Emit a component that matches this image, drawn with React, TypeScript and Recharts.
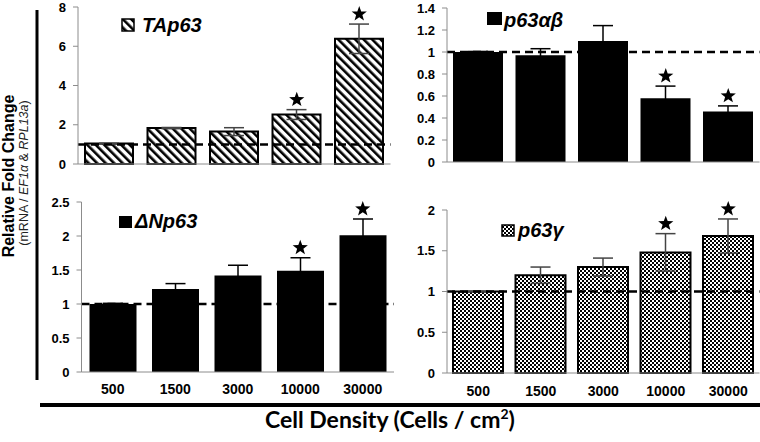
import React from 'react';
import { ComposedChart, Bar, ErrorBar, Line, XAxis, YAxis, ReferenceLine } from 'recharts';

const densities = ['500', '1500', '3000', '10000', '30000'];

const tap63 = [1.04, 1.83, 1.65, 2.52, 6.38];
const tap63Err = [0.02, 0.03, 0.2, 0.25, 0.75];
const tap63Sig = [false, false, false, true, true];
const tap63Ticks = [0, 2, 4, 6, 8];

const p63ab = [1.0, 0.97, 1.1, 0.58, 0.46];
const p63abErr = [0.005, 0.06, 0.14, 0.11, 0.05];
const p63abSig = [false, false, false, true, true];
const p63abTicks = [0, 0.2, 0.4, 0.6, 0.8, 1, 1.2, 1.4];

const dnp63 = [1.0, 1.22, 1.42, 1.49, 2.01];
const dnp63Err = [0.01, 0.08, 0.15, 0.19, 0.24];
const dnp63Sig = [false, false, false, true, true];
const dnp63Ticks = [0, 0.5, 1, 1.5, 2, 2.5];

const p63g = [1.0, 1.2, 1.3, 1.48, 1.68];
const p63gErr = [0.005, 0.1, 0.11, 0.23, 0.21];
const p63gSig = [false, false, false, true, true];
const p63gTicks = [0, 0.5, 1, 1.5, 2];

const FONT = '"Liberation Sans", Arial, sans-serif';

const makeRows = (vals: number[], errs: number[], sig: boolean[]) =>
  densities.map((d, i) => ({
    density: d,
    value: vals[i],
    err: errs[i],
    star: sig[i] ? vals[i] + errs[i] : null,
  }));

function starPoints(cx: number, cy: number, r: number, ri: number) {
  const pts: string[] = [];
  for (let k = 0; k < 10; k++) {
    const a = -Math.PI / 2 + (k * Math.PI) / 5;
    const rr = k % 2 === 0 ? r : ri;
    pts.push(`${cx + rr * Math.cos(a)},${cy + rr * Math.sin(a)}`);
  }
  return pts.join(' ');
}

const StarDot = (props: any) => {
  const { cx, cy, value, index } = props;
  if (value == null || cy == null) return <g key={`s${index}`} />;
  return <polygon key={`s${index}`} points={starPoints(cx, cy - 10, 8, 3.3)} fill="#000" />;
};

const XTick = (off: number) => (props: any) => {
  const { x, y, payload } = props;
  return (
    <text x={x} y={y + off} textAnchor="middle" fill="#000" fontSize={14} fontWeight="bold" fontFamily={FONT}>
      {payload.value}
    </text>
  );
};

interface PanelProps {
  left: number;
  top: number;
  width: number;
  height: number;
  margin: { top: number; right: number; bottom: number; left: number };
  rows: any[];
  ticks: number[];
  barSize: number;
  fill: string;
  outline: boolean;
  errColor: string;
  showX: boolean;
  xOff?: number;
}

function Panel(p: PanelProps) {
  const max = p.ticks[p.ticks.length - 1];
  return (
    <div style={{ position: 'absolute', left: p.left, top: p.top }}>
      <ComposedChart width={p.width} height={p.height} data={p.rows} margin={p.margin}>
        <XAxis
          dataKey="density"
          axisLine={{ stroke: '#8c8c8c' }}
          tickLine={false}
          tickSize={0}
          tickMargin={0}
          height={p.showX ? 30 : 16}
          tick={p.showX ? XTick(p.xOff || 22) : false}
          interval={0}
        />
        <YAxis
          domain={[0, max]}
          ticks={p.ticks}
          interval={0}
          width={30}
          axisLine={{ stroke: '#8c8c8c' }}
          tickLine={{ stroke: '#8c8c8c' }}
          tickSize={5}
          tickMargin={7}
          tick={{ fill: '#000', fontSize: 13, fontWeight: 'bold', fontFamily: FONT }}
        />
        <Bar
          dataKey="value"
          barSize={p.barSize}
          fill={p.fill}
          stroke={p.outline ? '#000' : 'none'}
          strokeWidth={p.outline ? 2 : 0}
          isAnimationActive={false}
        >
          <ErrorBar dataKey="err" width={10} stroke={p.errColor} strokeWidth={1.5} direction="y" />
        </Bar>
        <ReferenceLine y={1} stroke="#000" strokeWidth={2.5} strokeDasharray="8 5" />
        <Line
          dataKey="star"
          stroke="none"
          dot={StarDot}
          activeDot={false}
          legendType="none"
          isAnimationActive={false}
        />
      </ComposedChart>
    </div>
  );
}

export default function App() {
  return (
    <div style={{ position: 'absolute', left: 0, top: 0, width: 760, height: 442, background: '#fff', overflow: 'hidden' }}>
      <svg width={0} height={0} style={{ position: 'absolute' }}>
        <defs>
          <pattern id="hatch" patternUnits="userSpaceOnUse" width={6} height={6} patternTransform="rotate(-45)">
            <rect x={0} y={0} width={6} height={6} fill="#fff" />
            <rect x={0} y={0} width={2.6} height={6} fill="#000" />
          </pattern>
          <pattern id="checker" patternUnits="userSpaceOnUse" width={4} height={4}>
            <rect x={0} y={0} width={4} height={4} fill="#fff" />
            <rect x={0} y={0} width={2} height={2} fill="#000" />
            <rect x={2} y={2} width={2} height={2} fill="#000" />
          </pattern>
        </defs>
      </svg>

      <Panel
        left={0}
        top={0}
        width={400}
        height={180}
        margin={{ top: 7, right: 9.5, bottom: 0, left: 48 }}
        rows={makeRows(tap63, tap63Err, tap63Sig)}
        ticks={tap63Ticks}
        barSize={48}
        fill="url(#hatch)"
        outline
        errColor="#444"
        showX={false}
      />
      <Panel
        left={380}
        top={0}
        width={380}
        height={180}
        margin={{ top: 8, right: 0.5, bottom: 2, left: 37 }}
        rows={makeRows(p63ab, p63abErr, p63abSig)}
        ticks={p63abTicks}
        barSize={50}
        fill="#000"
        outline={false}
        errColor="#000"
        showX={false}
      />
      <Panel
        left={0}
        top={190}
        width={400}
        height={220}
        margin={{ top: 12, right: 6, bottom: 8, left: 51.5 }}
        rows={makeRows(dnp63, dnp63Err, dnp63Sig)}
        ticks={dnp63Ticks}
        barSize={47}
        fill="#000"
        outline={false}
        errColor="#000"
        showX
        xOff={22}
      />
      <Panel
        left={380}
        top={190}
        width={380}
        height={220}
        margin={{ top: 20, right: 0.5, bottom: 7, left: 37 }}
        rows={makeRows(p63g, p63gErr, p63gSig)}
        ticks={p63gTicks}
        barSize={50}
        fill="url(#checker)"
        outline
        errColor="#444"
        showX
        xOff={23}
      />

      <svg width={760} height={442} style={{ position: 'absolute', left: 0, top: 0, pointerEvents: 'none' }}>
        {/* panel titles with legend swatches */}
        <rect x={122} y={19} width={12} height={12} fill="url(#hatch)" stroke="#000" strokeWidth={1.5} />
        <text x={142} y={32} fontFamily={FONT} fontSize={20} fontWeight="bold" fontStyle="italic" fill="#000">TAp63</text>

        <rect x={487} y={12} width={15} height={13} fill="#000" />
        <text x={504} y={27} fontFamily={FONT} fontSize={20} fontWeight="bold" fontStyle="italic" fill="#000">p63αβ</text>

        <rect x={119} y={216} width={13} height={12} fill="#000" />
        <text x={135} y={228} fontFamily={FONT} fontSize={20} fontWeight="bold" fontStyle="italic" fill="#000">ΔNp63</text>

        <rect x={502} y={225} width={12} height={11} fill="url(#checker)" stroke="#000" strokeWidth={1.5} />
        <text x={518} y={237} fontFamily={FONT} fontSize={20} fontWeight="bold" fontStyle="italic" fill="#000">p63γ</text>

        {/* shared y label */}
        <text transform="translate(14,176) rotate(-90)" textAnchor="middle" fontFamily={FONT} fontSize={16} fontWeight="bold" fill="#000">
          Relative Fold Change
        </text>
        <text transform="translate(28,173) rotate(-90)" textAnchor="middle" fontFamily={FONT} fontSize={12.5} fill="#222">
          (mRNA / <tspan fontStyle="italic">EF1α</tspan> &amp; <tspan fontStyle="italic">RPL13a</tspan>)
        </text>
        <line x1={37} y1={10} x2={37} y2={380} stroke="#000" strokeWidth={3} />

        {/* shared x label */}
        <line x1={40} y1={405} x2={760} y2={405} stroke="#000" strokeWidth={4} />
        <text x={265} y={428} fontFamily="Lato, 'Open Sans', sans-serif" fontSize={23} fontWeight="bold" fill="#000">
          Cell Density (Cells / cm<tspan fontSize={14} dy={-9}>2</tspan><tspan dy={9}>)</tspan>
        </text>
      </svg>
    </div>
  );
}
